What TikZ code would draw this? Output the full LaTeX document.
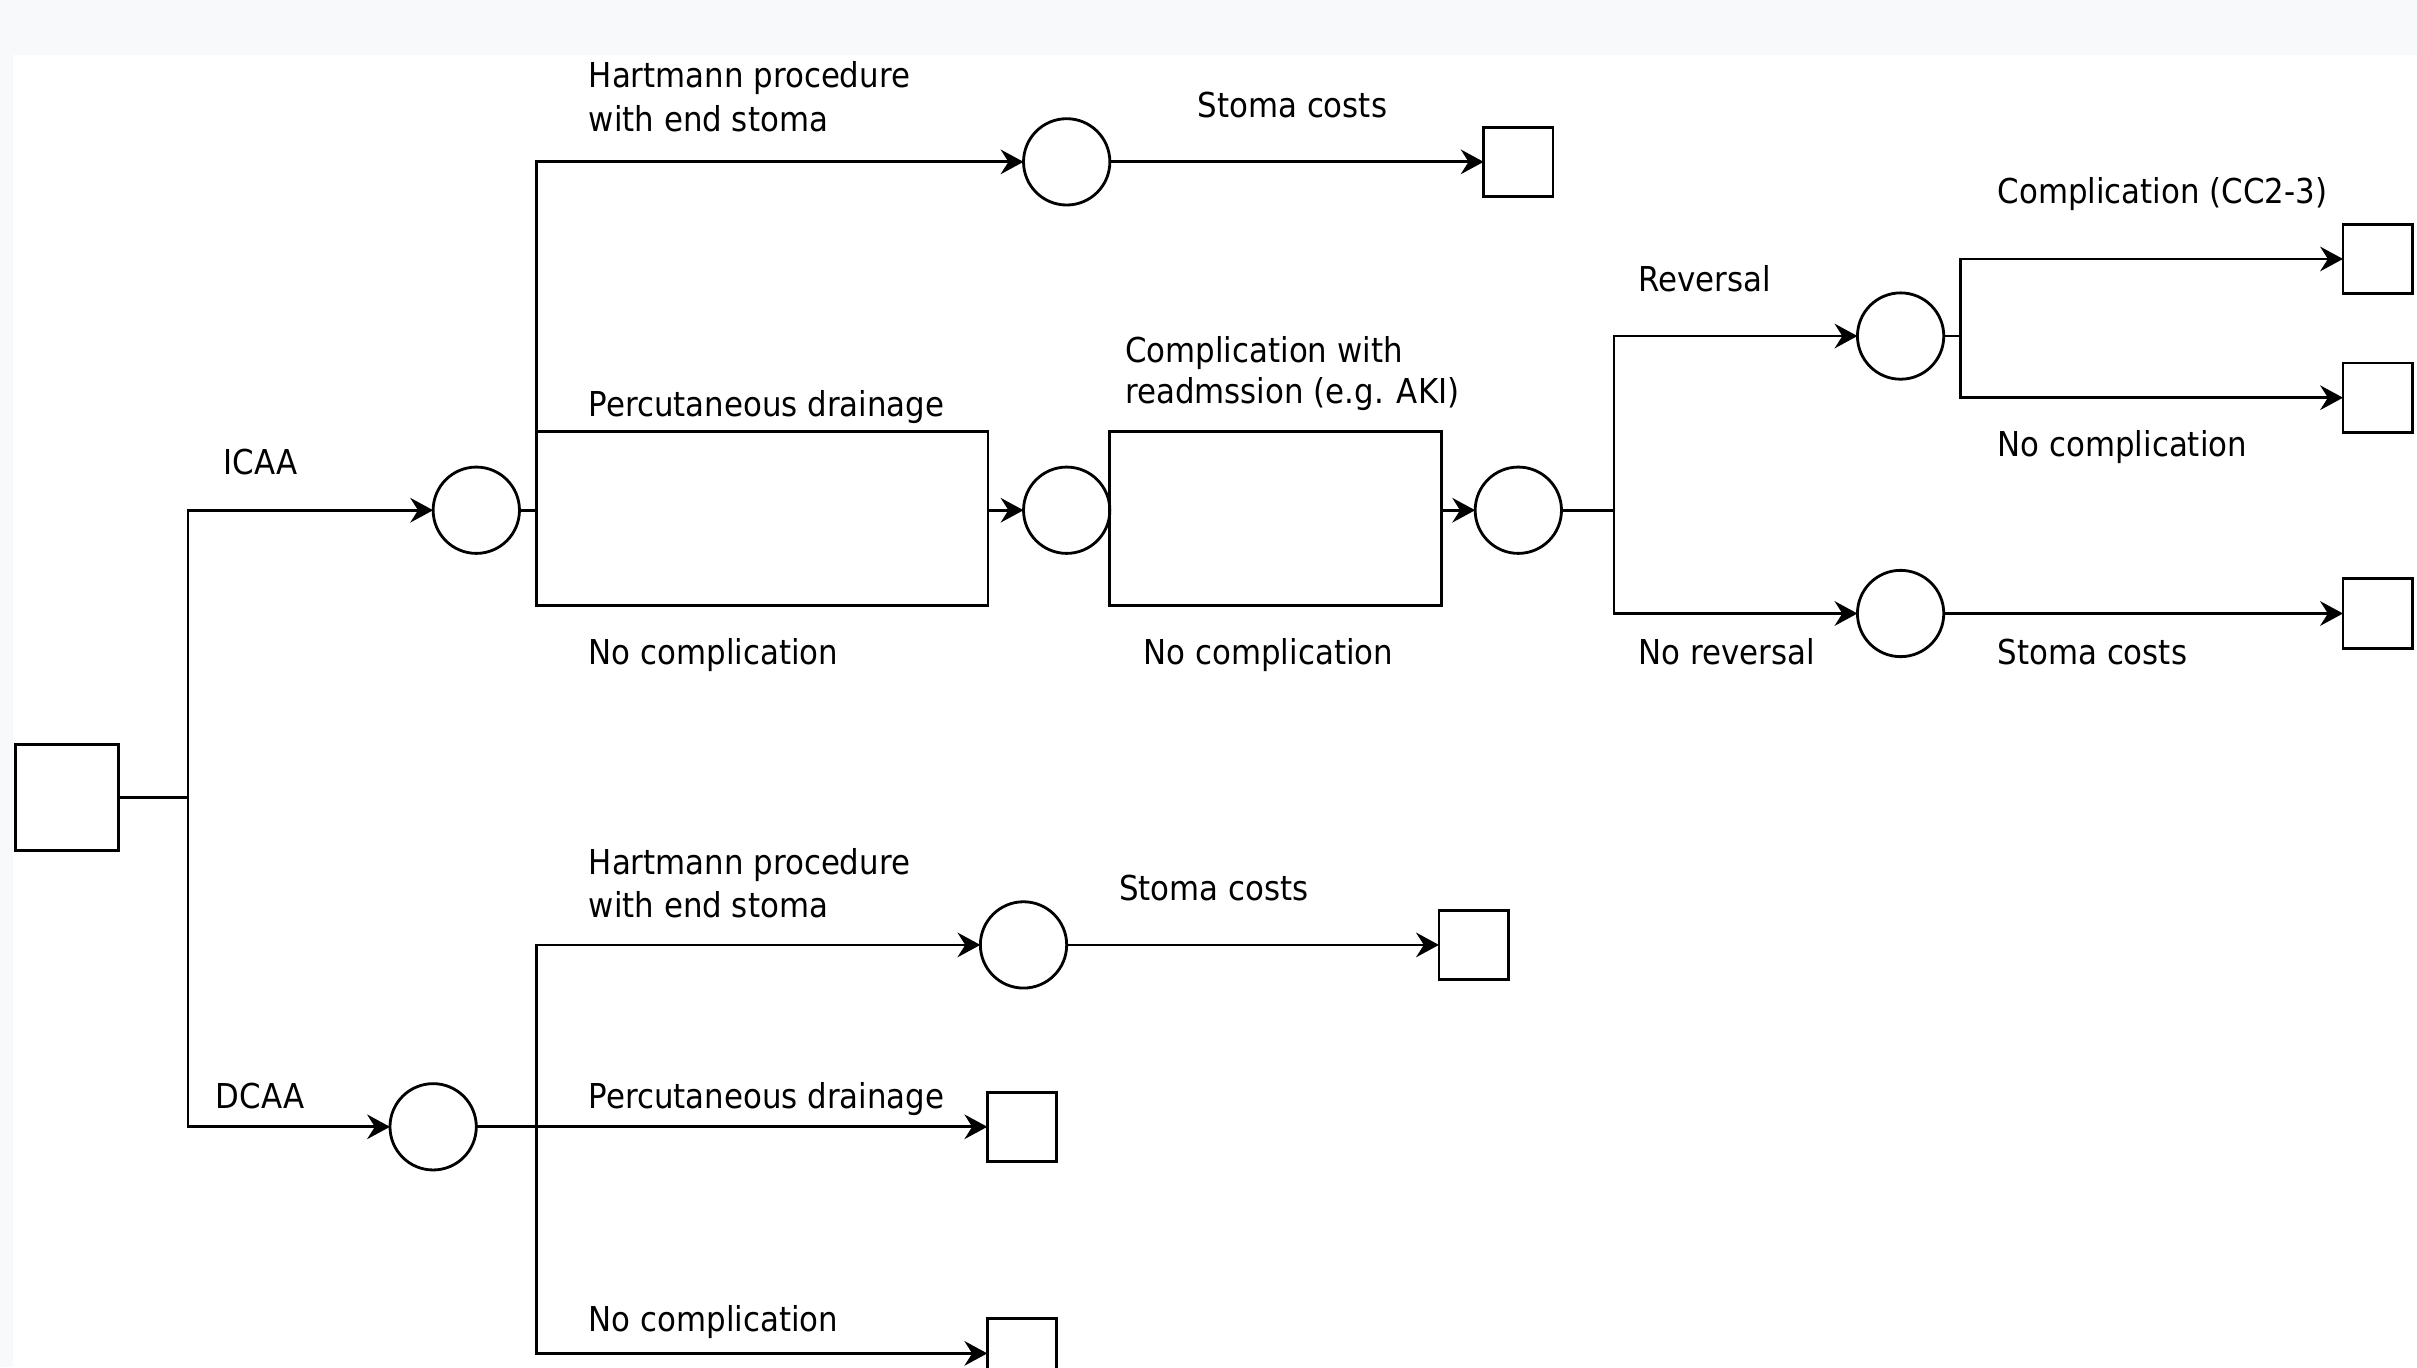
\documentclass[tikz,border=0pt]{standalone}
\usepackage{fontspec}
\setmainfont{DejaVu Sans}[FakeStretch=0.9]
\usetikzlibrary{arrows.meta}
\newdimen\dpx \dpx=0.015415cm
\definecolor{bgcol}{RGB}{248,249,251}
\begin{document}
\begin{tikzpicture}[x=0.015415cm, y=-0.015415cm,
  line width=0.8pt,
  every node/.style={inner sep=0pt, outer sep=0pt},
  term/.style={draw, rectangle, minimum width=45\dpx, minimum height=45\dpx},
  chance/.style={draw, circle, minimum size=56\dpx},
  lbl/.style={anchor=base west, font=\fontsize{9.75}{11.5}\selectfont},
  arr/.style={-{Stealth[length=6.5pt, width=7pt, inset=2.2pt]}},
]
\useasboundingbox (0,0) rectangle (1568,887);
\clip (0,0) rectangle (1568,887);
\fill[bgcol] (0,0) rectangle (1568,887);
\fill[white] (8.5,36) rectangle (1568,887);

% nodes
\node[draw, minimum width=67\dpx, minimum height=69\dpx] (root) at (43.5,517.5) {};
\node[chance] (cI) at (309,331) {};
\node[chance] (cD) at (281,731) {};
\node[chance] (cH1) at (692,105) {};
\node[term] (tH1) at (985,105) {};
\node[chance] (cP) at (692,331) {};
\node[chance] (cR) at (985,331) {};
\node[chance] (cRev) at (1233,218) {};
\node[chance] (cNoRev) at (1233,398) {};
\node[term] (tComp) at (1542.5,168) {};
\node[term] (tNoComp) at (1542.5,258) {};
\node[term] (tStoma) at (1542.5,398) {};
\node[chance] (cH2) at (664,613) {};
\node[term] (tH2) at (956,613) {};
\node[term] (tPD) at (663,731) {};
\node[term] (tNC) at (663,878) {};

% junctions
\coordinate (j0) at (122,517.5);
\coordinate (j1) at (348,331);
\coordinate (b1tr) at (641,280);
\coordinate (b1br) at (641,393);
\coordinate (b1r) at (641,331);
\coordinate (b2tr) at (935,280);
\coordinate (b2br) at (935,393);
\coordinate (b2r) at (935,331);
\coordinate (j2) at (1047,331);
\coordinate (j3) at (1272,218);
\coordinate (j4) at (348,731);

% connectors
\draw (root.east) -- (j0);
\draw[arr] (j0) |- (cI.west);
\draw[arr] (j0) |- (cD.west);
\draw (cI.east) -- (j1);
\draw[arr] (j1) |- (cH1.west);
\draw (j1) |- (b1tr) -- (b1br) -| (j1);
\draw[arr] (b1r) -- (cP.west);
\draw (cP.east) |- (b2tr) -- (b2br) -| (cP.east);
\draw[arr] (b2r) -- (cR.west);
\draw[arr] (cH1.east) -- (tH1.west);
\draw (cR.east) -- (j2);
\draw[arr] (j2) |- (cRev.west);
\draw[arr] (j2) |- (cNoRev.west);
\draw (cRev.east) -- (j3);
\draw[arr] (j3) |- (tComp.west);
\draw[arr] (j3) |- (tNoComp.west);
\draw[arr] (cNoRev.east) -- (tStoma.west);
\draw[arr] (cD.east) -- (tPD.west);
\draw[arr] (j4) |- (cH2.west);
\draw[arr] (j4) |- (tNC.west);
\draw[arr] (cH2.east) -- (tH2.west);

% labels
\node[lbl] (lICAA) at (145,308) {ICAA};
\node[lbl] (lDCAA) at (140,719) {DCAA};
\node[lbl] (lH1a) at (382,57) {Hartmann procedure};
\node[lbl] (lH1b) at (382,85) {with end stoma};
\node[lbl] (lS1) at (777,76) {Stoma costs};
\node[lbl] (lPD1) at (382,270) {Percutaneous drainage};
\node[lbl] (lNC1) at (382,431) {No complication};
\node[lbl] (lCRa) at (730,235) {Complication with};
\node[lbl] (lCRb) at (730,262) {readmssion (e.g. AKI)};
\node[lbl] (lNC2) at (742,431) {No complication};
\node[lbl] (lRev) at (1063,189) {Reversal};
\node[lbl] (lNoRev) at (1063,431) {No reversal};
\node[lbl] (lComp) at (1296,132) {Complication (CC2-3)};
\node[lbl] (lNC3) at (1296,296) {No complication};
\node[lbl] (lS2) at (1296,431) {Stoma costs};
\node[lbl] (lH2a) at (382,567) {Hartmann procedure};
\node[lbl] (lH2b) at (382,595) {with end stoma};
\node[lbl] (lS3) at (726,584) {Stoma costs};
\node[lbl] (lPD2) at (382,719) {Percutaneous drainage};
\node[lbl] (lNC4) at (382,864) {No complication};
\end{tikzpicture}
\end{document}
